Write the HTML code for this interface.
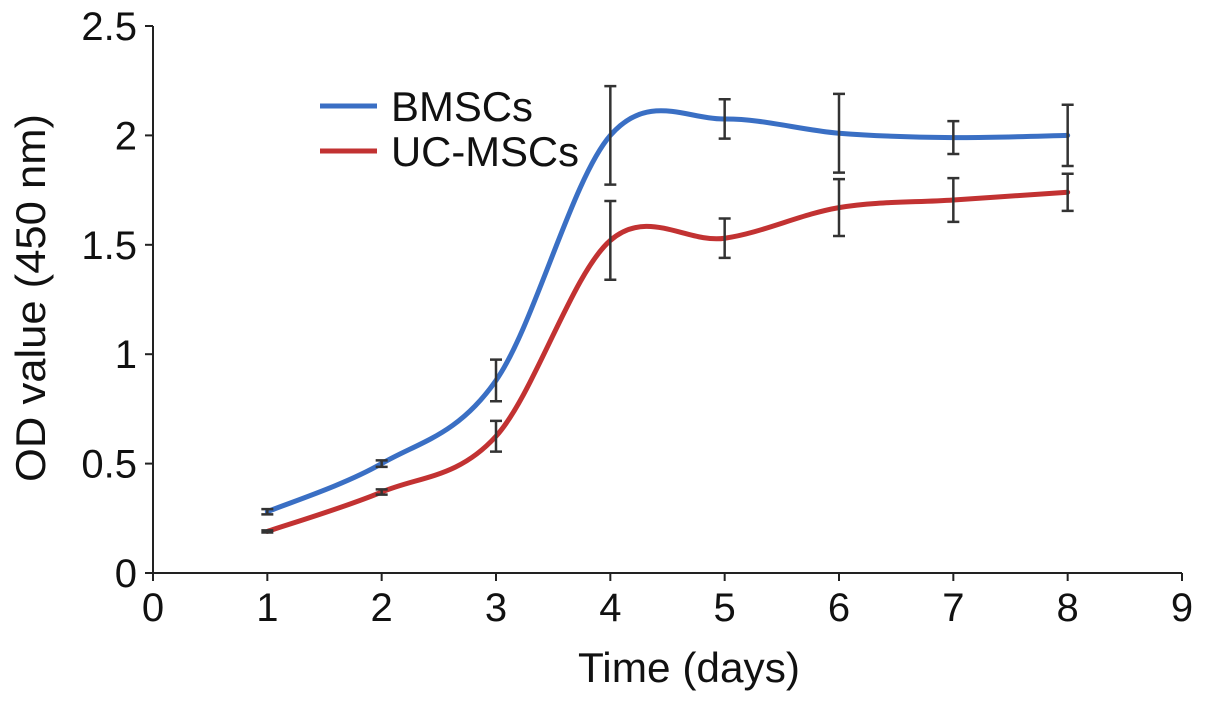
<!DOCTYPE html>
<html><head><meta charset="utf-8"><style>
body{margin:0;background:#fff}
svg{display:block;font-family:"Liberation Sans",Arial,sans-serif}
</style></head><body>
<svg id="c" width="1205" height="705"></svg>
<script>
const days=[1,2,3,4,5,6,7,8];
const bmsc=[0.28,0.50,0.88,2.00,2.075,2.01,1.99,2.00];
const bmscErr=[0.012,0.015,0.095,0.225,0.09,0.18,0.075,0.14];
const uc=[0.19,0.37,0.625,1.52,1.53,1.67,1.705,1.74];
const ucErr=[0.005,0.012,0.07,0.18,0.09,0.13,0.10,0.085];
const xTicks=[0,1,2,3,4,5,6,7,8,9];
const yTicks=[0,0.5,1,1.5,2,2.5];
const yTickLabels=["0","0.5","1","1.5","2","2.5"];
const NS="http://www.w3.org/2000/svg";
const svg=document.getElementById('c');
const X0=153,X1=1182,Y0=573,Y1=26;
const sx=v=>X0+(v-0)/(9-0)*(X1-X0);
const sy=v=>Y0-(v-0)/(2.5-0)*(Y0-Y1);
function mk(t,a){const e=document.createElementNS(NS,t);for(const k in a)e.setAttribute(k,a[k]);svg.appendChild(e);return e;}
let e;
e=mk('line',{x1:X0,y1:Y1,x2:X0,y2:Y0,stroke:'#222','stroke-width':2});


e=mk('line',{x1:X0,y1:Y0,x2:X1,y2:Y0,stroke:'#222','stroke-width':2});


yTicks.forEach((v,i)=>{
 mk('line',{x1:X0-8,y1:sy(v),x2:X0,y2:sy(v),stroke:'#222','stroke-width':2});
 e=mk('text',{x:X0-16,y:sy(v)+14,'text-anchor':'end','font-size':40,fill:'#111'});
 e.textContent=yTickLabels[i];
 
 
});
xTicks.forEach(v=>{
 mk('line',{x1:sx(v),y1:Y0,x2:sx(v),y2:Y0+8,stroke:'#222','stroke-width':2});
 e=mk('text',{x:sx(v),y:Y0+48,'text-anchor':'middle','font-size':40,fill:'#111'});
 e.textContent=v;
 
 
});
e=mk('text',{x:689,y:682,'text-anchor':'middle','font-size':42,textLength:222,lengthAdjust:'spacingAndGlyphs',fill:'#111'});
e.textContent='Time (days)';


e=mk('text',{x:0,y:0,'text-anchor':'middle','font-size':42,textLength:368,lengthAdjust:'spacingAndGlyphs',fill:'#111',transform:'translate(45,298) rotate(-90)'});
e.textContent='OD value (450 nm)';


function smooth(xs,ys){
 const p=xs.map((x,i)=>[sx(x),sy(ys[i])]);let d=`M${p[0][0]},${p[0][1]}`;
 for(let i=0;i<p.length-1;i++){
  const p0=p[Math.max(0,i-1)],p1=p[i],p2=p[i+1],p3=p[Math.min(p.length-1,i+2)];
  const c1=[p1[0]+(p2[0]-p0[0])/6,p1[1]+(p2[1]-p0[1])/6];
  const c2=[p2[0]-(p3[0]-p1[0])/6,p2[1]-(p3[1]-p1[1])/6];
  d+=` C${c1[0]},${c1[1]} ${c2[0]},${c2[1]} ${p2[0]},${p2[1]}`;
 }
 return d;
}
function series(vals,errs,color,name){
 e=mk('path',{d:smooth(days,vals),fill:'none',stroke:color,'stroke-width':5,'stroke-linecap':'round'});
 
 
 days.forEach((d,i)=>{
  const x=sx(d),t=sy(vals[i]+errs[i]),b=sy(vals[i]-errs[i]);
  e=mk('path',{d:`M${x},${t}V${b}M${x-6},${t}H${x+6}M${x-6},${b}H${x+6}`,stroke:'#333','stroke-width':2.5,fill:'none'});
  
  
 });
}
series(bmsc,bmscErr,'#3a6fc4','bmscs');
series(uc,ucErr,'#c23232','uc-mscs');
[['BMSCs','#3a6fc4',106,142],['UC-MSCs','#c23232',151,188]].forEach(([t,c,y,w])=>{
 e=mk('line',{x1:320,y1:y,x2:377,y2:y,stroke:c,'stroke-width':5});
 
 
 e=mk('text',{x:391,y:y+15,'font-size':42,textLength:w,lengthAdjust:'spacingAndGlyphs',fill:'#111'});
 e.textContent=t;
 
 
});
</script>
</body></html>
